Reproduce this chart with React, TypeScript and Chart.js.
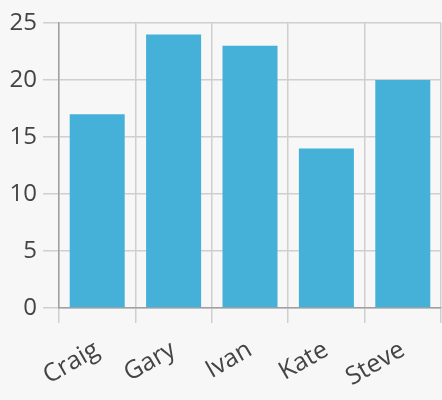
import React, { useEffect, useRef } from "react";
import { Chart, registerables } from "chart.js";

Chart.register(...registerables);

const categories = ["Craig", "Gary", "Ivan", "Kate", "Steve"];
const values = [17, 24, 23, 14, 20];
const yMin = 0;
const yMax = 25;
const yStep = 5;

export default function App() {
  const ref = useRef<HTMLCanvasElement | null>(null);
  useEffect(() => {
    document.body.style.margin = "0";
    document.body.style.background = "#f7f7f7";
    const ctx = ref.current!;
    const font = "'Open Sans', sans-serif";
    const chart = new Chart(ctx, {
      type: "bar",
      data: {
        labels: categories,
        datasets: [
          {
            data: values,
            backgroundColor: "#45b0d8",
            borderWidth: 0,
          },
        ],
      },
      options: {
        responsive: false,
        animation: false,
        layout: { padding: { top: 23, right: 1, left: 0, bottom: 0 } },
        plugins: { legend: { display: false }, tooltip: { enabled: false } },
        scales: {
          x: {
            grid: {
              color: "#cfcfcf",
              lineWidth: 1.5,
              tickLength: 15,
              offset: true,
            },
            border: { color: "#a0a0a0", width: 1.5 },
            ticks: {
              color: "#444",
              font: { family: font, size: 25 },
              minRotation: 30,
              maxRotation: 30,
              padding: 12,
            },
            afterFit: (s: any) => {
              s.height = 92;
            },
          },
          y: {
            min: yMin,
            max: yMax,
            grid: { color: "#cfcfcf", lineWidth: 1.5, tickLength: 16 },
            border: { color: "#a0a0a0", width: 1.5 },
            ticks: {
              stepSize: yStep,
              color: "#444",
              font: { family: font, size: 24 },
              padding: 6,
            },
            afterFit: (s: any) => {
              s.width = 59;
            },
          },
        },
      },
    });
    return () => chart.destroy();
  }, []);
  return (
    <div style={{ width: 442, height: 400 }}>
      <canvas ref={ref} width={442} height={400} />
    </div>
  );
}
